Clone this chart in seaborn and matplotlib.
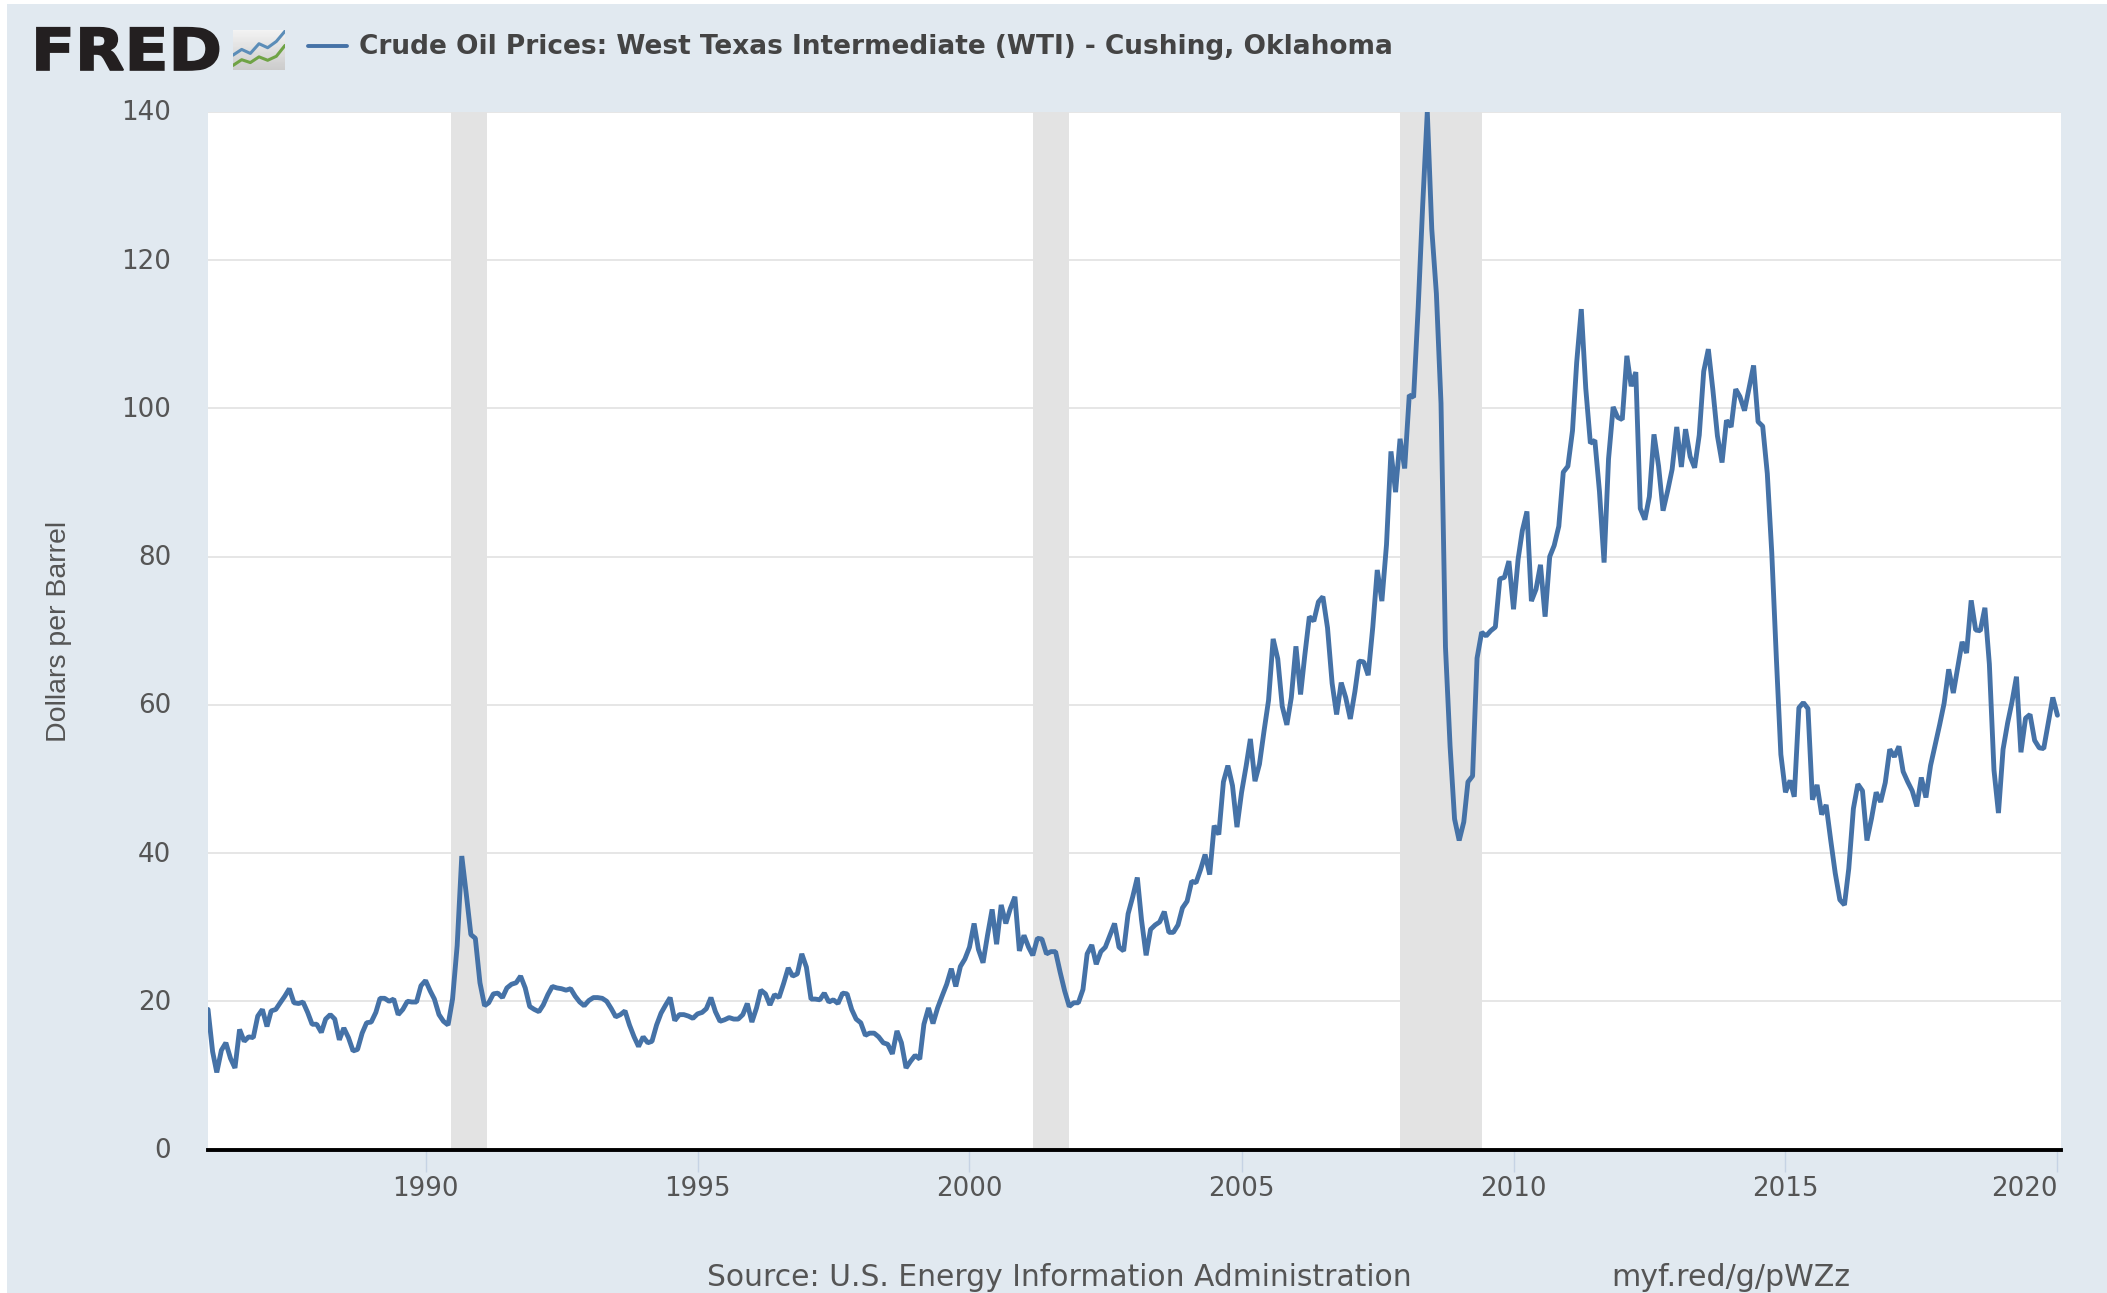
import matplotlib
matplotlib.use("Agg")
import matplotlib.pyplot as plt
import matplotlib.dates as mdates
from matplotlib.font_manager import FontProperties
from matplotlib.patches import PathPatch, Rectangle
from matplotlib.lines import Line2D
from matplotlib.textpath import TextPath
from matplotlib.transforms import Affine2D, ScaledTranslation
import numpy as np
import pandas as pd
import seaborn as sns

W, H = 2107, 1293

# end of month price, Jan 1986 to Jan 2020
prices_80s = [
    18.9, 13.2, 10.4, 13.4, 14.4, 12.3, 11.0, 16.2, 14.6, 15.2, 15.1, 18.0,
    18.9, 16.6, 18.7, 18.9, 19.8, 20.7, 21.7, 19.8, 19.7, 19.9, 18.5, 16.9,
    16.9, 15.8, 17.6, 18.2, 17.6, 14.8, 16.4, 15.1, 13.3, 13.5, 15.7, 17.1,
    17.2, 18.5, 20.4, 20.4, 20.0, 20.3, 18.2, 18.9, 20.0, 19.9, 19.9, 22.1,
]
prices_90s = [
    22.8, 21.4, 20.3, 18.2, 17.3, 16.8, 20.3, 27.5, 39.6, 34.5, 29.0, 28.5,
    22.5, 19.4, 19.8, 21.0, 21.1, 20.5, 21.8, 22.3, 22.5, 23.4, 21.8, 19.3,
    18.9, 18.6, 19.5, 20.9, 22.0, 21.8, 21.7, 21.5, 21.7, 20.7, 19.9, 19.4,
    20.1, 20.5, 20.5, 20.4, 20.0, 19.0, 17.9, 18.2, 18.7, 16.8, 15.2, 13.9,
    15.2, 14.4, 14.6, 16.8, 18.4, 19.5, 20.5, 17.4, 18.2, 18.2, 18.0, 17.7,
    18.3, 18.5, 19.0, 20.5, 18.6, 17.3, 17.5, 17.8, 17.6, 17.6, 18.2, 19.7,
    17.2, 19.1, 21.5, 21.0, 19.5, 20.9, 20.5, 22.4, 24.5, 23.4, 23.7, 26.4,
    24.6, 20.3, 20.3, 20.2, 21.1, 19.9, 20.2, 19.7, 21.1, 21.0, 18.9, 17.6,
    17.1, 15.4, 15.7, 15.7, 15.2, 14.4, 14.2, 12.9, 16.0, 14.4, 11.0, 11.9,
    12.7, 12.2, 16.9, 19.1, 17.0, 19.1, 20.7, 22.3, 24.4, 22.0, 24.7, 25.7,
]
prices_00s = [
    27.3, 30.5, 27.0, 25.2, 28.9, 32.4, 27.7, 33.0, 30.5, 32.5, 34.1, 26.8,
    28.9, 27.3, 26.2, 28.5, 28.4, 26.4, 26.7, 26.7, 23.9, 21.4, 19.3, 19.8,
    19.8, 21.6, 26.4, 27.6, 25.0, 26.7, 27.3, 28.9, 30.5, 27.3, 26.8, 31.8,
    34.1, 36.7, 31.0, 26.2, 29.7, 30.3, 30.7, 32.1, 29.3, 29.3, 30.3, 32.6,
    33.5, 36.2, 36.0, 37.8, 39.8, 37.1, 43.7, 42.5, 49.6, 51.8, 49.1, 43.5,
    48.2, 51.8, 55.4, 49.7, 52.0, 56.5, 60.6, 68.9, 66.2, 59.8, 57.3, 61.0,
    67.9, 61.4, 66.6, 71.9, 71.3, 73.9, 74.6, 70.4, 62.9, 58.7, 63.0, 61.0,
    58.1, 61.8, 65.9, 65.8, 64.0, 70.5, 78.2, 74.0, 81.6, 94.2, 88.7, 95.9,
    91.9, 101.8, 101.5, 113.7, 127.4, 140.0, 124.2, 115.5, 100.7, 67.8, 54.4, 44.6,
    41.7, 44.2, 49.6, 50.4, 66.3, 69.8, 69.3, 70.0, 70.5, 77.0, 77.2, 79.4,
]
prices_10s = [
    72.9, 79.7, 83.5, 86.1, 74.0, 75.6, 78.9, 71.9, 80.0, 81.5, 84.1, 91.4,
    92.2, 97.0, 106.2, 113.4, 102.7, 95.3, 95.7, 88.8, 79.2, 93.2, 100.2, 98.8,
    98.5, 107.1, 103.0, 104.9, 86.5, 85.0, 88.1, 96.5, 92.2, 86.2, 88.9, 91.8,
    97.5, 92.1, 97.2, 93.5, 92.0, 96.4, 105.0, 108.0, 102.4, 96.3, 92.7, 98.4,
    97.5, 102.6, 101.6, 99.7, 102.7, 105.8, 98.2, 97.6, 91.2, 80.5, 66.2, 53.3,
    48.2, 49.8, 47.6, 59.6, 60.3, 59.5, 47.2, 49.2, 45.2, 46.5, 41.7, 37.3,
    33.7, 33.0, 37.9, 46.0, 49.3, 48.4, 41.7, 44.7, 48.2, 46.9, 49.5, 54.0,
    53.0, 54.4, 51.0, 49.6, 48.4, 46.3, 50.2, 47.5, 51.8, 54.5, 57.3, 60.2,
    64.8, 61.6, 64.9, 68.5, 67.0, 74.1, 70.1, 70.0, 73.1, 65.5, 51.2, 45.4,
    54.0, 57.6, 60.3, 63.8, 53.6, 58.2, 58.7, 55.2, 54.2, 54.1, 57.6, 61.0,
    58.6,
]
recession_start = ["1990-06-20", "2001-03-01", "2007-12-01"]
recession_end = ["1991-02-20", "2001-11-01", "2009-06-01"]
y_ticks = [0, 20, 40, 60, 80, 100, 120, 140]
x_tick_years = [1990, 1995, 2000, 2005, 2010, 2015, 2020]

# small logo chart
icon_x = [0, 1, 2, 3, 4, 5, 6]
icon_blue = [2.6, 3.6, 2.9, 4.6, 3.9, 5.0, 6.8]
icon_green = [0.8, 1.8, 1.3, 2.3, 1.7, 2.4, 4.3]

PANEL = "#E1E9F0"
LINE = "#4572A7"
TEXT = "#555555"

prices = prices_80s + prices_90s + prices_00s + prices_10s
df = pd.DataFrame({
    "date": pd.date_range("1986-01-01", periods=len(prices), freq="MS"),
    "price": prices,
})

sns.set_style("white")
plt.rcParams["font.family"] = ["DejaVu Sans"]

fig = plt.figure(figsize=(W / 100, H / 100), dpi=100, facecolor="white")
# panel leaves a thin white edge on the left and the top
fig.add_artist(Rectangle((7 / W, 0), 1 - 7 / W, 1 - 4 / H, transform=fig.transFigure,
                         facecolor=PANEL, edgecolor="none", zorder=-5))

ax = fig.add_axes([208 / W, 1 - 1149.5 / H, (2061 - 208) / W, (1149.5 - 112) / H])
ax.set_facecolor("white")
ax.patch.set_zorder(0)

for s, e in zip(recession_start, recession_end):
    ax.axvspan(pd.Timestamp(s), pd.Timestamp(e), color="#E3E3E3", lw=0, zorder=2)

ax.set_axisbelow(True)
ax.grid(axis="y", color="#E6E6E6", lw=1.4, zorder=1)

sns.lineplot(data=df, x="date", y="price", ax=ax, color=LINE, linewidth=3.5,
             errorbar=None, estimator=None, solid_joinstyle="bevel", zorder=3)

ax.set_xlim(df["date"].iloc[0], pd.Timestamp("2020-01-25"))
ax.set_ylim(0, 140)

for side in ["left", "right", "top"]:
    ax.spines[side].set_visible(False)
ax.spines["bottom"].set_color("black")
ax.spines["bottom"].set_linewidth(2.8)
ax.spines["bottom"].set_zorder(5)

ax.set_yticks(y_ticks)
ax.set_yticklabels([str(v) for v in y_ticks])
ax.tick_params(axis="y", length=0, pad=26.5, labelsize=18.8, labelcolor=TEXT)
# y labels sit a little above their gridlines
for lab in ax.get_yticklabels():
    lab.set_transform(lab.get_transform() + ScaledTranslation(0, 1.5 / 100, fig.dpi_scale_trans))
ax.set_xticks([pd.Timestamp(f"{y}-01-01") for y in x_tick_years])
ax.xaxis.set_major_formatter(mdates.DateFormatter("%Y"))
ax.tick_params(axis="x", length=16, width=1, color="#C6D3E4", pad=3, labelsize=18.8,
               labelcolor=TEXT, bottom=True)
ax.get_xticklabels()[-1].set_ha("right")
ax.set_xlabel("")
ax.set_ylabel("")

fig.text(59 / W, 1 - 631 / H, "Dollars per Barrel", rotation=90, fontsize=20.5,
         color=TEXT, ha="center", va="center", family="Liberation Sans")

# header, logo word stretched a bit wider than the font
logo_path = TextPath((0, 0), "FRED", size=58, prop=FontProperties(family="DejaVu Sans", weight="bold"))
logo_tf = Affine2D().scale(1.11, 1).translate(31, H - 70)
fig.add_artist(PathPatch(logo_path, transform=logo_tf, facecolor="#231F20",
                         edgecolor="#231F20", lw=1.2))

icon = fig.add_axes([233 / W, 1 - 70 / H, 52 / W, 40 / H])
gradient = np.linspace(0.95, 0.8, 32).reshape(-1, 1)
icon.imshow(gradient, cmap="gray", vmin=0, vmax=1, aspect="auto", extent=(0, 6, 0, 7))
icon.plot(icon_x, icon_blue, color="#5B8DB8", lw=2.2)
icon.plot(icon_x, icon_green, color="#6FA345", lw=2.2)
icon.set_xlim(0, 6)
icon.set_ylim(0, 7)
icon.set_xticks([])
icon.set_yticks([])
for sp in icon.spines.values():
    sp.set_visible(False)

fig.add_artist(Line2D([308 / W, 347 / W], [1 - 46 / H, 1 - 46 / H], color=LINE, lw=2.8,
                      transform=fig.transFigure))
fig.text(359 / W, 1 - 47 / H, "Crude Oil Prices: West Texas Intermediate (WTI) - Cushing, Oklahoma",
         fontsize=19, fontweight="bold", color="#444444", ha="left", va="center")

# footer
fig.text(707 / W, 1 - 1278 / H, "Source: U.S. Energy Information Administration",
         fontsize=21.4, color=TEXT, ha="left", va="center")
fig.text(1611 / W, 1 - 1278 / H, "myf.red/g/pWZz", fontsize=21.6, color=TEXT,
         ha="left", va="center")

fig.savefig("out.png", dpi=100, facecolor=fig.get_facecolor())
